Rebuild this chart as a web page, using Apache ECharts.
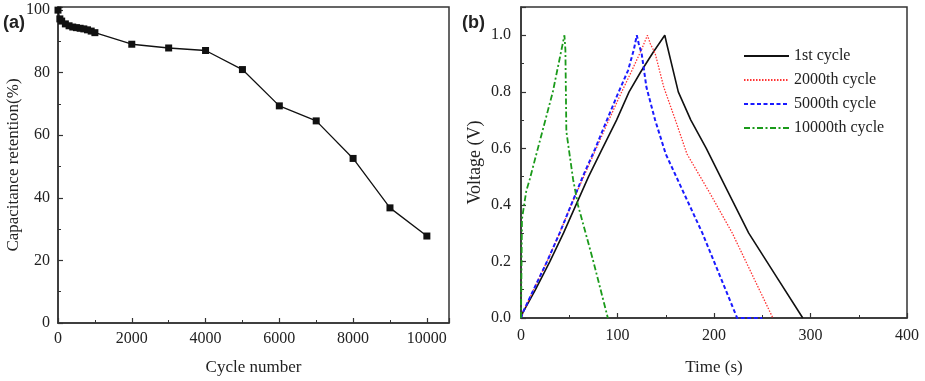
<!DOCTYPE html>
<html>
<head>
<meta charset="utf-8">
<script src="https://cdn.jsdelivr.net/npm/echarts@6/dist/echarts.min.js"></script>
<style>
  html, body { margin: 0; padding: 0; background: #fff; }
  #chart { width: 925px; height: 381px; }
</style>
</head>
<body>
<div id="chart"></div>
<script>
// (a) capacitance retention vs cycle number
const cycles = [0, 50, 100, 200, 300, 400, 500, 600, 700, 800, 900, 1000,
  2000, 3000, 4000, 5000, 6000, 7000, 8000, 9000, 10000];
const retention = [100, 97.2, 96.5, 95.6, 95.0, 94.6, 94.4, 94.2, 94.0, 93.7, 93.3, 92.8,
  89.1, 87.9, 87.1, 81.0, 69.4, 64.6, 52.6, 36.8, 27.8];

// (b) charge-discharge curves, [time (s), voltage (V)]
const cycle1 = [[0, 0], [2, 0.02], [15, 0.1], [30, 0.2], [44, 0.3], [57, 0.4], [70, 0.5],
  [83, 0.59], [99, 0.70], [112, 0.80], [124, 0.87], [137, 0.94], [149, 1.0],
  [151, 0.97], [163, 0.8], [176, 0.7], [192, 0.6], [214, 0.45], [236, 0.3],
  [264, 0.15], [292, 0]];
const cycle2000 = [[0, 0], [2, 0.02], [13, 0.1], [27, 0.2], [40, 0.3], [52, 0.4], [65, 0.5],
  [78, 0.6], [91, 0.70], [103, 0.79], [115, 0.876], [125, 0.95], [131, 1.0],
  [134, 0.97], [139, 0.936], [148, 0.816], [160, 0.70], [172, 0.58],
  [196, 0.44], [219, 0.30], [240, 0.15], [261, 0]];
const cycle5000 = [[0, 0], [2, 0.02], [13, 0.1], [27, 0.2], [40, 0.3], [52, 0.4], [64, 0.5],
  [77, 0.6], [89, 0.70], [100, 0.79], [111, 0.876], [117, 0.95], [120, 1.0],
  [122, 0.97], [125, 0.936], [130, 0.816], [139, 0.70], [150, 0.58],
  [169, 0.44], [188, 0.30], [206, 0.15], [224, 0], [250, 0]];
const cycle10000 = [[0, 0], [1, 0.35], [5.5, 0.45], [9, 0.49], [17.5, 0.6], [33, 0.8],
  [45, 1.0], [46, 0.95], [47, 0.66], [54, 0.49], [59, 0.4], [75, 0.2], [90, 0]];

const serif = '"Liberation Serif", "DejaVu Serif", serif';
const axisColor = '#333';

function axisBase(extra) {
  return Object.assign({
    axisLine: { show: true, onZero: false, lineStyle: { color: axisColor, width: 1.5 } },
    axisTick: { show: true, inside: true, length: 5, lineStyle: { color: axisColor, width: 1.2 } },
    minorTick: { show: true, splitNumber: 2, length: 3, lineStyle: { color: axisColor, width: 1 } },
    splitLine: { show: false },
    nameLocation: 'middle',
    nameTextStyle: { fontFamily: serif, fontSize: 17, color: '#222' }
  }, extra);
}

const chart = echarts.init(document.getElementById('chart'));

const option = {
  animation: false,
  backgroundColor: '#fff',
  grid: [
    { left: 58, top: 7, right: 476, bottom: 56, show: true, borderColor: axisColor, borderWidth: 1.5 },
    { left: 521, top: 7, right: 18, bottom: 62, show: true, borderColor: axisColor, borderWidth: 1.5 }
  ],
  xAxis: [
    axisBase({
      gridIndex: 0, type: 'value', min: 0, max: 10600, interval: 2000,
      name: 'Cycle number', nameGap: 36,
      axisLabel: {
        fontFamily: serif, fontSize: 16, color: '#222', margin: 8,
        formatter: v => (v % 2000 === 0 ? String(v) : '')
      }
    }),
    axisBase({
      gridIndex: 1, type: 'value', min: 0, max: 400, interval: 100,
      name: 'Time (s)', nameGap: 41,
      axisLabel: { fontFamily: serif, fontSize: 16, color: '#222', margin: 10 }
    })
  ],
  yAxis: [
    axisBase({
      gridIndex: 0, type: 'value', min: 0, max: 101, interval: 20,
      name: 'Capacitance retention(%)', nameGap: 36,
      axisLabel: {
        fontFamily: serif, fontSize: 16, color: '#222', margin: 8,
        formatter: v => (v % 20 === 0 ? String(v) : '')
      }
    }),
    axisBase({
      gridIndex: 1, type: 'value', min: 0, max: 1.1, interval: 0.2,
      name: 'Voltage (V)', nameGap: 37,
      nameTextStyle: { fontFamily: serif, fontSize: 18, color: '#222' },
      axisLabel: {
        fontFamily: serif, fontSize: 16, color: '#222', margin: 10,
        formatter: v => (v <= 1.0001 ? v.toFixed(1) : '')
      }
    })
  ],
  legend: {
    orient: 'vertical',
    left: 738, top: 43,
    itemWidth: 45, itemHeight: 14, itemGap: 8,
    itemStyle: { opacity: 0 },
    textStyle: { fontFamily: serif, fontSize: 16, color: '#222' },
    data: ['1st cycle', '2000th cycle', '5000th cycle', '10000th cycle']
  },
  graphic: [
    { type: 'text', left: 3, top: 14, style: { text: '(a)', font: 'bold 18px Arial, "Liberation Sans", sans-serif', fill: '#222' } },
    { type: 'text', left: 462, top: 14, style: { text: '(b)', font: 'bold 18px Arial, "Liberation Sans", sans-serif', fill: '#222' } }
  ],
  series: [
    {
      type: 'line', xAxisIndex: 0, yAxisIndex: 0,
      data: cycles.map((c, i) => [c, retention[i]]),
      symbol: 'rect', symbolSize: 7,
      lineStyle: { color: '#111', width: 1.3 },
      itemStyle: { color: '#111' }
    },
    {
      name: '1st cycle', type: 'line', xAxisIndex: 1, yAxisIndex: 1,
      data: cycle1, showSymbol: false, symbol: 'none',
      lineStyle: { color: '#111', width: 1.6, type: 'solid' },
      itemStyle: { color: '#111' }
    },
    {
      name: '2000th cycle', type: 'line', xAxisIndex: 1, yAxisIndex: 1,
      data: cycle2000, showSymbol: false, symbol: 'none',
      lineStyle: { color: '#ff3333', width: 1.3, type: [1.5, 1.5] },
      itemStyle: { color: '#ff3333' }
    },
    {
      name: '5000th cycle', type: 'line', xAxisIndex: 1, yAxisIndex: 1,
      data: cycle5000, showSymbol: false, symbol: 'none',
      lineStyle: { color: '#1a1aff', width: 2, type: [4, 2.5] },
      itemStyle: { color: '#1a1aff' }
    },
    {
      name: '10000th cycle', type: 'line', xAxisIndex: 1, yAxisIndex: 1,
      data: cycle10000, showSymbol: false, symbol: 'none',
      lineStyle: { color: '#1a9a1a', width: 1.8, type: [6, 2.5, 2, 2.5] },
      itemStyle: { color: '#1a9a1a' }
    }
  ]
};

chart.setOption(option);
</script>
</body>
</html>
